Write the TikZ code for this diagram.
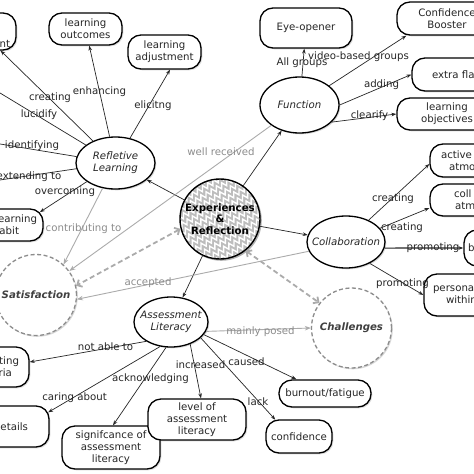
\documentclass[tikz,border=0pt]{standalone}
\usepackage{fontspec}
\setmainfont{DejaVu Sans}
\usetikzlibrary{shapes.geometric, arrows.meta, shadows, calc, decorations.pathmorphing}
\begin{document}
\begin{tikzpicture}[x=1pt, y=-1pt,
  every node/.style={font=\fontsize{10.2}{12}\selectfont, text=black!85},
  shad/.style={drop shadow={shadow xshift=1.3pt, shadow yshift=-1.3pt, opacity=0.3}},
  box/.style={draw=black, line width=1.3pt, rounded corners=13pt, fill=white, align=center, inner sep=0pt, shad},
  ell/.style={draw=black, line width=1.3pt, ellipse, fill=white, inner ysep=0pt, inner xsep=-8pt, align=center, font=\fontsize{10.2}{12}\selectfont\itshape, shad},
  dcirc/.style={draw=black!45, dash pattern=on 4pt off 2.5pt, line width=1.3pt, circle, fill=white, inner sep=0pt, minimum size=81pt, font=\fontsize{10.2}{12}\selectfont\bfseries\itshape, text=black!75, shad},
  lab/.style={inner sep=0pt, text=black!85},
  glab/.style={inner sep=0pt, text=black!45},
  arr/.style={draw=black!85, line width=0.7pt, -{Stealth[length=5pt,width=3.6pt]}},
  garr/.style={draw=black!33, line width=0.9pt, -{Stealth[length=6pt,width=4.5pt]}},
  darr/.style={draw=black!33, line width=1.8pt, dash pattern=on 5pt off 3pt, {Straight Barb[length=4pt,width=8pt]}-{Straight Barb[length=4pt,width=8pt]}},
  zz/.style={white, line width=1.4pt, decorate, decoration={zigzag, segment length=6pt, amplitude=2.6pt}}
]
\useasboundingbox (0,0) rectangle (474,474);
\clip (0,0) rectangle (474,474);
\fill[white] (0,0) rectangle (474,474);

% concepts
\node[box, minimum width=73pt, minimum height=32pt] (outc) at (85.5,29) {learning\\outcomes};
\node[box, minimum width=73pt, minimum height=34pt] (adj) at (164.5,52) {learning\\adjustment};
\node[box, minimum width=70pt, minimum height=37pt, text width=58pt, align=right] (nt) at (-19,31.5) {\strut\\\strut\\nt};
\node[box, minimum width=72pt, minimum height=32pt, text width=60pt, align=right] (habit) at (7,225) {earning\\\mbox{abit\kern18pt}};
\node[box, minimum width=60pt, minimum height=40pt, text width=40pt, align=right] (ting) at (-1,367) {ting\\\mbox{ria\kern7pt}};
\node[box, minimum width=80pt, minimum height=41pt, text width=38pt, align=right] (details) at (9,426.5) {etails};
\node[box, minimum width=98pt, minimum height=43pt] (sig) at (111,447.5) {signifcance of\\assessment\\literacy};
\node[box, minimum width=98pt, minimum height=41pt] (level) at (197,419.5) {level of\\assessment\\literacy};
\node[box, minimum width=92pt, minimum height=27pt] (burn) at (325,393.5) {burnout/fatigue};
\node[box, minimum width=66pt, minimum height=33pt] (conf2) at (299,436.5) {confidence};
\node[box, minimum width=92pt, minimum height=40pt] (eye) at (306,28) {Eye-opener};
\node[box, minimum width=100pt, minimum height=33pt] (conf) at (447,18.5) {Confidence\\Booster};
\node[box, minimum width=120pt, minimum height=33pt, text width=80pt, align=left] (extra) at (472,74.5) {extra fla};
\node[box, minimum width=100pt, minimum height=32pt] (obj) at (447,114) {learning\\objectives};
\node[box, minimum width=80pt, minimum height=33pt, text width=58pt, align=left] (active) at (470,160.5) {active\\\mbox{\kern8pt atmo}};
\node[box, minimum width=80pt, minimum height=32pt, text width=32pt, align=left] (coll) at (470,200) {coll\\\mbox{\kern1pt atm}};
\node[box, minimum width=40pt, minimum height=36pt, text width=32pt, align=left] (bnode) at (484,248) {b};
\node[box, minimum width=90pt, minimum height=42pt, text width=72pt, align=left] (pers) at (469,295) {persona\\\mbox{\kern13pt within}};

\node[ell, minimum width=79pt, minimum height=52pt] (rl) at (115.5,163) {Refletive\\Learning};
\node[ell, minimum width=79pt, minimum height=56pt] (fun) at (299.5,105) {Function};
\node[ell, minimum width=78pt, minimum height=52pt] (col) at (346,242) {Collaboration};
\node[ell, minimum width=74pt, minimum height=50pt] (al) at (171,322) {Assessment\\Literacy};

\node[dcirc] (sat) at (36,295) {Satisfaction};
\node[dcirc, minimum size=80pt] (chal) at (351.5,328) {Challenges};

% central concept: shadow, patterned fill, then the node
\coordinate (expc) at (220,219);
\fill[black, opacity=0.3] ($(expc)+(1.3,1.3)$) circle (40.5pt);
\begin{scope}
  \clip (expc) circle (40pt);
  \fill[black!26] (expc) circle (41pt);
  \begin{scope}[shift={(expc)}, rotate=30]
    \foreach \k in {-7,...,7}
      \draw[zz] (-60,\k*7) -- (60,\k*7);
  \end{scope}
\end{scope}
\node[circle, draw=black, line width=1.4pt, minimum size=80pt, inner sep=0pt, align=center,
  font=\fontsize{10.2}{11.5}\selectfont\bfseries, text=black] (exp) at (expc) {Experiences\\\&\\Reflection};

\coordinate (cLuc) at (-60,56.6);
\coordinate (cIde) at (-60,134.1);
\coordinate (cExt) at (-60,188.8);

% black links
\draw[arr] (exp) -- (rl);
\draw[arr] (exp) -- (fun);
\draw[arr] (exp) -- (col);
\draw[arr] (exp) -- (al);

\draw[arr] (rl) -- (outc);
\draw[arr] (rl) -- ($(adj.south)+(5.5,0)$);
\draw[arr] (rl) -- (nt);
\draw[arr] (rl) -- (cLuc);
\draw[arr] (rl) -- (cIde);
\draw[arr] (rl) -- (cExt);
\draw[arr] (rl) -- ($(habit.north east)+(-3.8,3.8)$);

\draw[arr] (fun) -- (eye);
\draw[arr] (fun) -- ($(conf.south west)+(10,0)$);
\draw[arr] (fun.east) -- (extra.west);
\draw[arr] (fun.-28) -- (obj.west);

\draw[arr] (col.44) -- ($(active.west)+(0,3.5)$);
\draw[arr] (col.22) -- ($(coll.west)+(0,8)$);
\draw[arr, line width=1.2pt] (col.-9) -- (bnode.west);
\draw[arr] (col.-42) -- (pers.west);

\draw[arr] (al.218) -- ($(ting.east)+(0,-5)$);
\draw[arr] (al.246) -- ($(details.north east)+(-1.5,7)$);
\draw[arr] (al.259) -- ($(sig.north)+(2,0)$);
\draw[arr] (al.-49) -- ($(level.north)+(4,0)$);
\draw[arr] (al.-21) -- ($(burn.north west)+(18,0)$);
\draw[arr] (al.-28) -- ($(conf2.north west)+(10,0.4)$);

% grey links
\draw[garr] (fun) -- (sat);
\draw[garr] (rl.243) -- (sat.48);
\draw[garr] (col.194) -- (sat.-6);
\draw[garr] (al.-15) -- (chal.west);
\draw[darr] (exp.194) -- (sat.13);
\draw[darr] (exp.-51) -- (chal.142);

% link labels
\node[lab] (lcre1) at (50,98) {creating};
\node[lab] (lluc) at (39,115) {lucidify};
\node[lab] (lide) at (32,146) {identifying};
\node[lab] (lext) at (29,177) {extending to};
\node[lab] (lover) at (65,192) {overcoming};
\node[lab] (lenh) at (99.5,92) {enhancing};
\node[lab] (leli) at (153,106) {elicitng};
\node[glab] (lwell) at (221,152) {well received};
\node[glab] (lcont) at (83.5,229) {contributing to};
\node[glab] (lacc) at (148,283) {accepted};
\node[glab] (lmain) at (260.5,332) {mainly posed};
\node[lab] (lall) at (302,63) {All groups};
\node[lab] (lvid) at (358.5,57) {video-based groups};
\node[lab] (ladd) at (381.5,85) {adding};
\node[lab] (lclr) at (369.5,116) {clearify};
\node[lab] (lcre2) at (393,199) {creating};
\node[lab] (lcre3) at (402,228) {creating};
\node[lab] (lpro1) at (433,248) {promoting};
\node[lab] (lpro2) at (402.5,284) {promoting};
\node[lab] (lnot) at (105.5,347) {not able to};
\node[lab] (lcar) at (74.5,398) {caring about};
\node[lab] (lackn) at (150.5,379) {acknowledging};
\node[lab] (linc) at (200.5,365) {increased};
\node[lab] (lcau) at (246.5,362) {caused};
\node[lab] (llack) at (258,402) {lack};
\end{tikzpicture}
\end{document}
